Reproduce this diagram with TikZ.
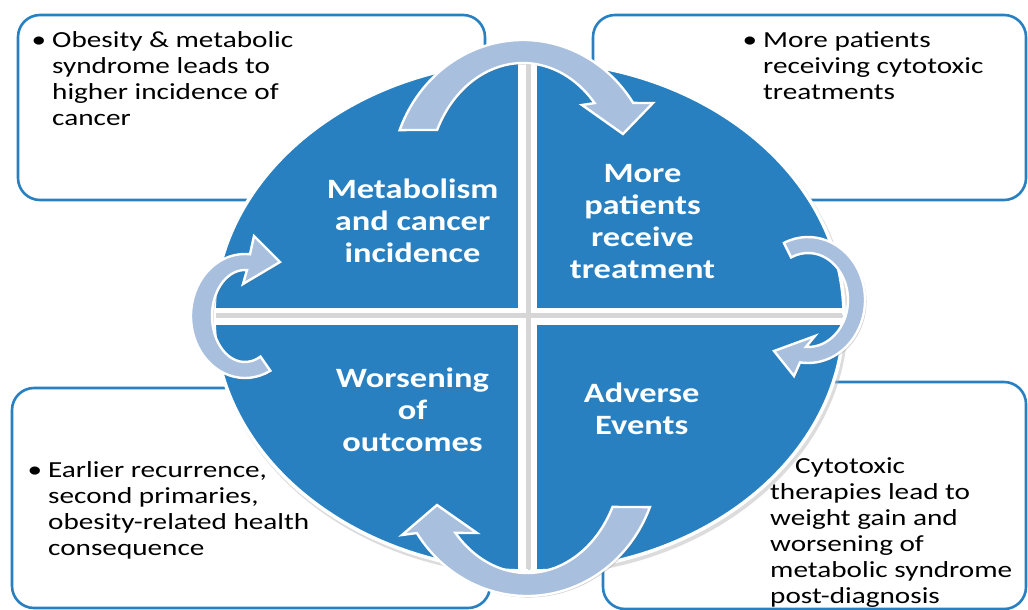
\documentclass[tikz,border=0pt]{standalone}
\usepackage{fontspec}
\setmainfont{Carlito}
\newfontfamily\boxfont[FakeStretch=1.27]{Carlito}
\newfontfamily\ellfont[FakeStretch=1.23]{Carlito}
\usetikzlibrary{shadows}
\definecolor{mainblue}{RGB}{40,128,193}
\definecolor{arrowblue}{RGB}{168,191,222}
\begin{document}
\begin{tikzpicture}[x=1pt,y=1pt,
  box/.style={draw=mainblue, line width=2.6pt, fill=white, rounded corners=22pt},
  boxtext/.style={font=\boxfont\fontsize{23}{26}\selectfont, align=left, inner sep=0pt, anchor=north west, text=black},
  elltext/.style={font=\ellfont\bfseries\fontsize{28}{32}\selectfont, align=center, inner sep=0pt, anchor=north, text=white},
  cyc/.style={fill=arrowblue, draw=white, line width=2.4pt, line join=miter,
    drop shadow={shadow xshift=1.5pt, shadow yshift=-1.5pt, opacity=0.3, fill=black!60}},
]
\useasboundingbox (0,0) rectangle (1028,-610);
% corner boxes
\draw[box] (18,-15) rectangle (485,-200);
\draw[box] (593,-15) rectangle (1026,-200);
\draw[box] (12,-388) rectangle (490,-608);
\draw[box] (603,-382) rectangle (1026,-609);
% central ellipse
\fill[black!30, opacity=0.45] (531,-319) ellipse[x radius=317, y radius=257];
\draw[fill=mainblue, draw=white, line width=3.5pt] (529,-316) ellipse[x radius=315, y radius=255];
\begin{scope}
  \clip (529,-316) ellipse[x radius=313, y radius=253];
  \fill[white] (518,0) rectangle (537,-620);
  \fill[white] (0,-308) rectangle (1028,-325);
  \fill[black!16] (526,0) rectangle (531,-620);
  \fill[black!16] (0,-313) rectangle (1028,-318);
\end{scope}
% curved arrows
\path[cyc] ([shift={(523,-180)}]159.1:132 and 140)
  arc[start angle=159.1, end angle=33.4, x radius=132, y radius=140]
  -- (653,-103) -- (623,-134) -- (582,-105)
  -- ([shift={(523,-180)}]41.1:95 and 117)
  arc[start angle=41.1, end angle=154.7, x radius=95, y radius=117] -- cycle;
\path[cyc] ([shift={(808,-300)}]115:57 and 63)
  arc[start angle=115, end angle=-98, x radius=57, y radius=63]
  -- (794,-376) -- (774,-351) -- (815,-336)
  -- ([shift={(808,-300)}]-93:40 and 47)
  arc[start angle=-93, end angle=115, x radius=40, y radius=47] -- cycle;
\path[cyc] ([shift={(527,-456)}]-21.4:132 and 140)
  arc[start angle=-21.4, end angle=-146.6, x radius=132, y radius=140]
  -- (402,-535) -- (437,-505) -- (477,-533)
  -- ([shift={(527,-456)}]-138.9:95 and 117)
  arc[start angle=-138.9, end angle=-25.8, x radius=95, y radius=117] -- cycle;
\path[cyc] ([shift={(245,-316)}]-62:54 and 62)
  arc[start angle=-62, end angle=-275.3, x radius=54, y radius=62]
  -- (254,-236) -- (280,-262) -- (243,-284)
  -- ([shift={(245,-316)}]-273.5:33 and 46)
  arc[start angle=-273.5, end angle=-62, x radius=33, y radius=46] -- cycle;
% box texts
\node[boxtext] (tl) at (52,-28.8) {\strut\llap{\textbullet\hspace{6pt}}Obesity \& metabolic\\syndrome leads to\\higher incidence of\\cancer};
\node[boxtext] (tr) at (763,-28.8) {\strut\llap{\textbullet\hspace{6pt}}More patients\\receiving cytotoxic\\treatments};
\node[boxtext] (bl) at (48,-458.8) {\strut\llap{\textbullet\hspace{6pt}}Earlier recurrence,\\second primaries,\\obesity-related health\\consequence};
\node[boxtext] (br) at (770,-454.8) {\strut\hspace*{25pt}Cytotoxic\\therapies lead to\\weight gain and\\worsening of\\metabolic syndrome\\post-diagnosis};
% ellipse texts
\node[elltext] (q1) at (412.5,-175.6) {\strut Metabolism\\and cancer\\incidence};
\node[elltext] (q2) at (642.5,-159.6) {\strut More\\patients\\receive\\treatment};
\node[elltext] (q3) at (412.5,-364.6) {\strut Worsening\\of\\outcomes};
\node[elltext] (q4) at (641.7,-379.6) {\strut Adverse\\Events};
\end{tikzpicture}
\end{document}
